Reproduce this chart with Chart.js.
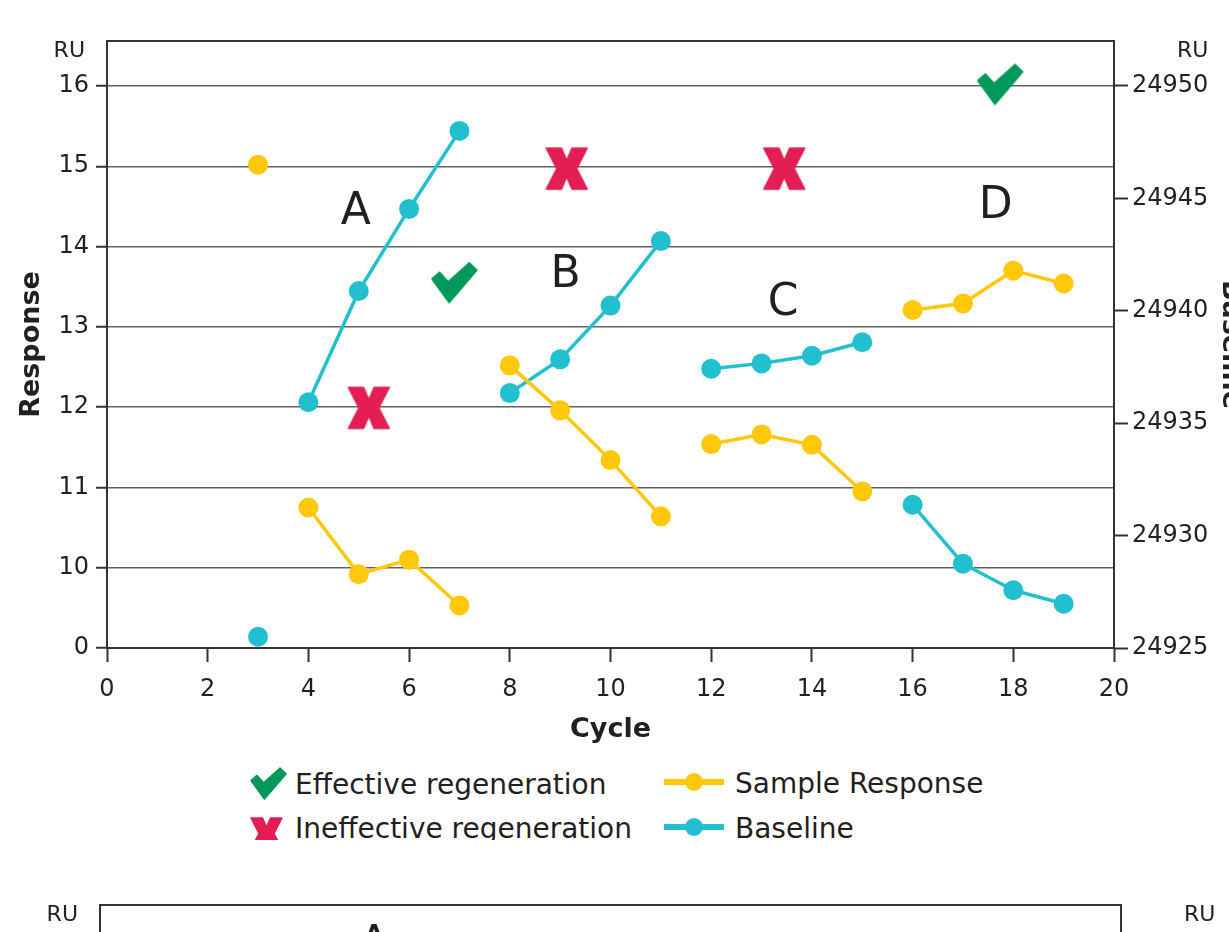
<!DOCTYPE html>
<html>
<head>
<meta charset="utf-8">
<title>Regeneration scouting</title>
<script src="https://cdn.jsdelivr.net/npm/chart.js@4.4.1/dist/chart.umd.min.js"></script>
<style>
  html, body { margin: 0; padding: 0; background: #fff; width: 1229px; height: 932px; overflow: hidden; }
  .panel { position: absolute; left: 0; width: 1250px; height: 760px; }
  #panel1 { top: 0; }
  #panel2 { top: 864px; }
  #legend { position: absolute; left: 0; top: 760px; width: 1229px; height: 80px; overflow: hidden;
            font-family: 'DejaVu Sans', Verdana, sans-serif; font-size: 28px; color: #231f20; }
  #legend canvas { position: absolute; }
  #legend .lg-text { position: absolute; line-height: 28px; white-space: nowrap; }
</style>
</head>
<body>
<div class="panel" id="panel1"><canvas id="chart1"></canvas></div>
<div id="legend"></div>
<div class="panel" id="panel2"><canvas id="chart2"></canvas></div>
<script>
// ---- data ----
const cycles = [3, 4, 5, 6, 7, 8, 9, 10, 11, 12, 13, 14, 15, 16, 17, 18, 19];
const sampleResponse = [15.02, 10.75, 9.92, 10.10, 9.53, 12.52, 11.96, 11.34, 10.64,
                        11.54, 11.66, 11.53, 10.95, 13.21, 13.29, 13.70, 13.54];
const baseline = [24925.50, 24935.93, 24940.88, 24944.53, 24948.00, 24936.34, 24937.84, 24940.23, 24943.10,
                  24937.42, 24937.66, 24938.00, 24938.60, 24931.37, 24928.75, 24927.57, 24926.97];
// first cycle of each run: no line leads into these points
const runStarts = [3, 4, 8, 12, 16];

// regeneration outcomes (cycle, response level)
const effectiveCycles = [6.9, 17.74];
const effectiveLevels = [13.55, 16.02];
const ineffectiveCycles = [5.2, 9.13, 13.45];
const ineffectiveLevels = [11.99, 14.97, 14.97];

// run letters
const runLetters = ['A', 'B', 'C', 'D'];
const runLetterCycles = [4.94, 9.11, 13.43, 17.65];
const runLetterLevels = [14.48, 13.70, 13.35, 14.55];

// lower panel letters
const lowerLetters = ['A'];
const lowerLetterCycles = [5.37];
const lowerLetterLevels = [16.11];

// axes
const cycleRange = [0, 20];
const cycleStep = 2;
const responseRange = [9, 16.56];
const responseTickValues = [9, 10, 11, 12, 13, 14, 15, 16];
const responseTickLabels = ['0', '10', '11', '12', '13', '14', '15', '16'];
const baselineRange = [24925, 24952];
const baselineTickValues = [24925, 24930, 24935, 24940, 24945, 24950];
const unitLabel = 'RU';

const legendLabels = ['Effective regeneration', 'Ineffective regeneration', 'Sample Response', 'Baseline'];

// ---- styling ----
const FONT = "'DejaVu Sans', Verdana, sans-serif";
const INK = '#231f20';
const AXIS = '#333333';
const GRID = '#626262';
const YELLOW = '#ffc80b';
const TEAL = '#22bfcf';
const GREEN = '#00995a';
const RED = '#e31e52';
const TICK_SIZE = 24;

Chart.defaults.font.family = FONT;
Chart.defaults.color = INK;

// ---- symbols ----
function tracePolygon(ctx, pts, sx, sy) {
  ctx.beginPath();
  pts.forEach(([px, py], i) => i ? ctx.lineTo(px * sx, py * sy) : ctx.moveTo(px * sx, py * sy));
  ctx.closePath();
}
function traceCheck(ctx, w, h) {
  tracePolygon(ctx, [[0, 17], [8, 10], [17, 20], [39, 0], [47, 8], [18, 42]], w / 47, h / 42);
}
function traceCross(ctx, w, h) {
  tracePolygon(ctx, [[0, 0], [16, 0], [21.5, 13], [27, 0], [43, 0], [32, 21.5],
                     [43, 43], [27, 43], [21.5, 30], [16, 43], [0, 43], [11, 21.5]], w / 43, h / 43);
}
function symbolCanvas(kind, w, h, color) {
  const m = 2;
  const c = document.createElement('canvas');
  c.width = w + 2 * m; c.height = h + 2 * m;
  const ctx = c.getContext('2d');
  ctx.translate(m, m);
  ctx.fillStyle = color; ctx.strokeStyle = color;
  ctx.lineJoin = 'round'; ctx.lineWidth = 1.5;
  if (kind === 'check') traceCheck(ctx, w, h); else traceCross(ctx, w, h);
  ctx.fill(); ctx.stroke();
  return c;
}
function lineDotCanvas(color) {
  const c = document.createElement('canvas');
  c.width = 60; c.height = 20;
  const ctx = c.getContext('2d');
  ctx.strokeStyle = color; ctx.fillStyle = color; ctx.lineWidth = 6;
  ctx.beginPath(); ctx.moveTo(0, 10); ctx.lineTo(60, 10); ctx.stroke();
  ctx.beginPath(); ctx.arc(30, 10, 9, 0, Math.PI * 2); ctx.fill();
  return c;
}

const checkMark = symbolCanvas('check', 45, 40, GREEN);
const crossMark = symbolCanvas('cross', 41, 41, RED);

// ---- plugins ----
const panelDecor = {
  id: 'panelDecor',
  beforeDatasetsDraw(chart) {
    const { ctx, chartArea: { left, right, top } } = chart;
    ctx.save();
    ctx.strokeStyle = AXIS; ctx.lineWidth = 2;
    ctx.beginPath(); ctx.moveTo(left - 1, top); ctx.lineTo(right + 1, top); ctx.stroke();
    ctx.restore();
  },
  afterDatasetsDraw(chart, args, opts) {
    const { ctx, scales } = chart;
    const letters = opts.letters || [];
    const size = 44;
    ctx.save();
    ctx.fillStyle = INK;
    ctx.font = size + 'px ' + FONT;
    ctx.textAlign = 'center'; ctx.textBaseline = 'alphabetic';
    letters.forEach((t, i) => {
      // letter is centred on its point: baseline sits half a cap height below
      const x = scales.x.getPixelForValue(opts.cycles[i]);
      const y = scales.y.getPixelForValue(opts.levels[i]) + size * 0.364;
      ctx.fillText(t, x, y);
    });
    ctx.restore();
  },
  afterDraw(chart) {
    const { ctx, chartArea, scales } = chart;
    ctx.save();
    ctx.fillStyle = INK;
    ctx.font = TICK_SIZE + 'px ' + FONT;
    const widest = ctx.measureText(String(baselineTickValues[baselineTickValues.length - 1])).width;
    ctx.font = '22px ' + FONT;
    ctx.textAlign = 'right'; ctx.textBaseline = 'middle';
    const y = chartArea.top + 10;
    ctx.fillText(unitLabel, chartArea.left - 22, y);
    ctx.fillText(unitLabel, scales.y1.left + 18 + widest, y);
    ctx.restore();
  }
};

function buildScales(leftWidth, rightWidth) {
  return {
    x: {
      type: 'linear', position: 'bottom',
      min: cycleRange[0], max: cycleRange[1],
      ticks: { stepSize: cycleStep, font: { size: TICK_SIZE }, color: INK, padding: 13, maxRotation: 0 },
      grid: { drawOnChartArea: false, drawTicks: true, tickLength: 14, tickColor: AXIS, tickWidth: 2 },
      border: { display: true, color: AXIS, width: 2 },
      title: { display: true, text: 'Cycle', color: INK, font: { size: 27, weight: 'bold' }, padding: { top: 0, bottom: 14 } },
      afterFit(s) { s.height = 112; }
    },
    y: {
      type: 'linear', position: 'left',
      min: responseRange[0], max: responseRange[1],
      afterBuildTicks(s) { s.ticks = responseTickValues.map(v => ({ value: v })); },
      ticks: {
        font: { size: TICK_SIZE }, color: INK, padding: 7,
        callback: v => responseTickLabels[responseTickValues.indexOf(v)]
      },
      grid: { color: GRID, lineWidth: 1.5, drawTicks: true, tickLength: 11, tickColor: AXIS, tickWidth: 2 },
      border: { display: true, color: AXIS, width: 2 },
      title: { display: true, text: 'Response', color: INK, font: { size: 27, weight: 'bold' }, padding: { top: 16, bottom: 0 } },
      afterFit(s) { s.width = leftWidth; }
    },
    y1: {
      type: 'linear', position: 'right',
      min: baselineRange[0], max: baselineRange[1],
      afterBuildTicks(s) { s.ticks = baselineTickValues.map(v => ({ value: v })); },
      ticks: { font: { size: TICK_SIZE }, color: INK, padding: 4, callback: v => String(v) },
      grid: { drawOnChartArea: false, drawTicks: true, tickLength: 14, tickColor: AXIS, tickWidth: 2 },
      border: { display: true, color: AXIS, width: 2 },
      title: { display: true, text: 'Baseline', color: INK, font: { size: 27, weight: 'bold' }, padding: { top: 4, bottom: 0 } },
      afterFit(s) { s.width = rightWidth; }
    }
  };
}

function baseOptions(leftWidth, rightWidth, letters, letterCycles, letterLevels) {
  return {
    responsive: true,
    maintainAspectRatio: false,
    animation: false,
    devicePixelRatio: 1,
    layout: { padding: { top: 41, left: 0, right: 0, bottom: 0 } },
    plugins: {
      legend: { display: false },
      tooltip: { enabled: false },
      panelDecor: { letters: letters, cycles: letterCycles, levels: letterLevels }
    },
    scales: buildScales(leftWidth, rightWidth)
  };
}

const pts = (xs, ys) => xs.map((x, i) => ({ x: x, y: ys[i] }));
const gapSegment = color => ({
  borderColor: c => runStarts.includes(cycles[c.p1DataIndex]) ? 'rgba(0,0,0,0)' : color
});

// ---- upper panel ----
new Chart(document.getElementById('chart1'), {
  type: 'line',
  data: {
    datasets: [
      {
        label: legendLabels[0], type: 'scatter', yAxisID: 'y',
        data: pts(effectiveCycles, effectiveLevels),
        pointStyle: checkMark, pointRadius: 20, showLine: false
      },
      {
        label: legendLabels[1], type: 'scatter', yAxisID: 'y',
        data: pts(ineffectiveCycles, ineffectiveLevels),
        pointStyle: crossMark, pointRadius: 20, showLine: false
      },
      {
        label: legendLabels[2], yAxisID: 'y',
        data: pts(cycles, sampleResponse),
        borderColor: YELLOW, backgroundColor: YELLOW, borderWidth: 3.5,
        pointRadius: 10, pointBorderWidth: 0, pointBackgroundColor: YELLOW,
        tension: 0, segment: gapSegment(YELLOW)
      },
      {
        label: legendLabels[3], yAxisID: 'y1',
        data: pts(cycles, baseline),
        borderColor: TEAL, backgroundColor: TEAL, borderWidth: 3.5,
        pointRadius: 10, pointBorderWidth: 0, pointBackgroundColor: TEAL,
        tension: 0, segment: gapSegment(TEAL)
      }
    ]
  },
  options: baseOptions(107, 136, runLetters, runLetterCycles, runLetterLevels),
  plugins: [panelDecor]
});

// ---- legend ----
(function buildLegend() {
  const box = document.getElementById('legend');
  const entries = [
    { sym: symbolCanvas('check', 35, 31, GREEN), sx: 249, sy: 6, tx: 295, ty: 11 },
    { sym: symbolCanvas('cross', 31, 31, RED), sx: 249, sy: 56, tx: 295, ty: 54.8 },
    { sym: lineDotCanvas(YELLOW), sx: 664, sy: 12.3, tx: 735, ty: 9.5 },
    { sym: lineDotCanvas(TEAL), sx: 664, sy: 57.3, tx: 735, ty: 54.5 }
  ];
  entries.forEach((e, i) => {
    e.sym.style.left = e.sx + 'px';
    e.sym.style.top = e.sy + 'px';
    box.appendChild(e.sym);
    const t = document.createElement('div');
    t.className = 'lg-text';
    t.style.left = e.tx + 'px';
    t.style.top = e.ty + 'px';
    t.textContent = legendLabels[i];
    box.appendChild(t);
  });
})();

// ---- lower panel ----
new Chart(document.getElementById('chart2'), {
  type: 'line',
  data: { datasets: [] },
  options: baseOptions(100, 129, lowerLetters, lowerLetterCycles, lowerLetterLevels),
  plugins: [panelDecor]
});
</script>
</body>
</html>
